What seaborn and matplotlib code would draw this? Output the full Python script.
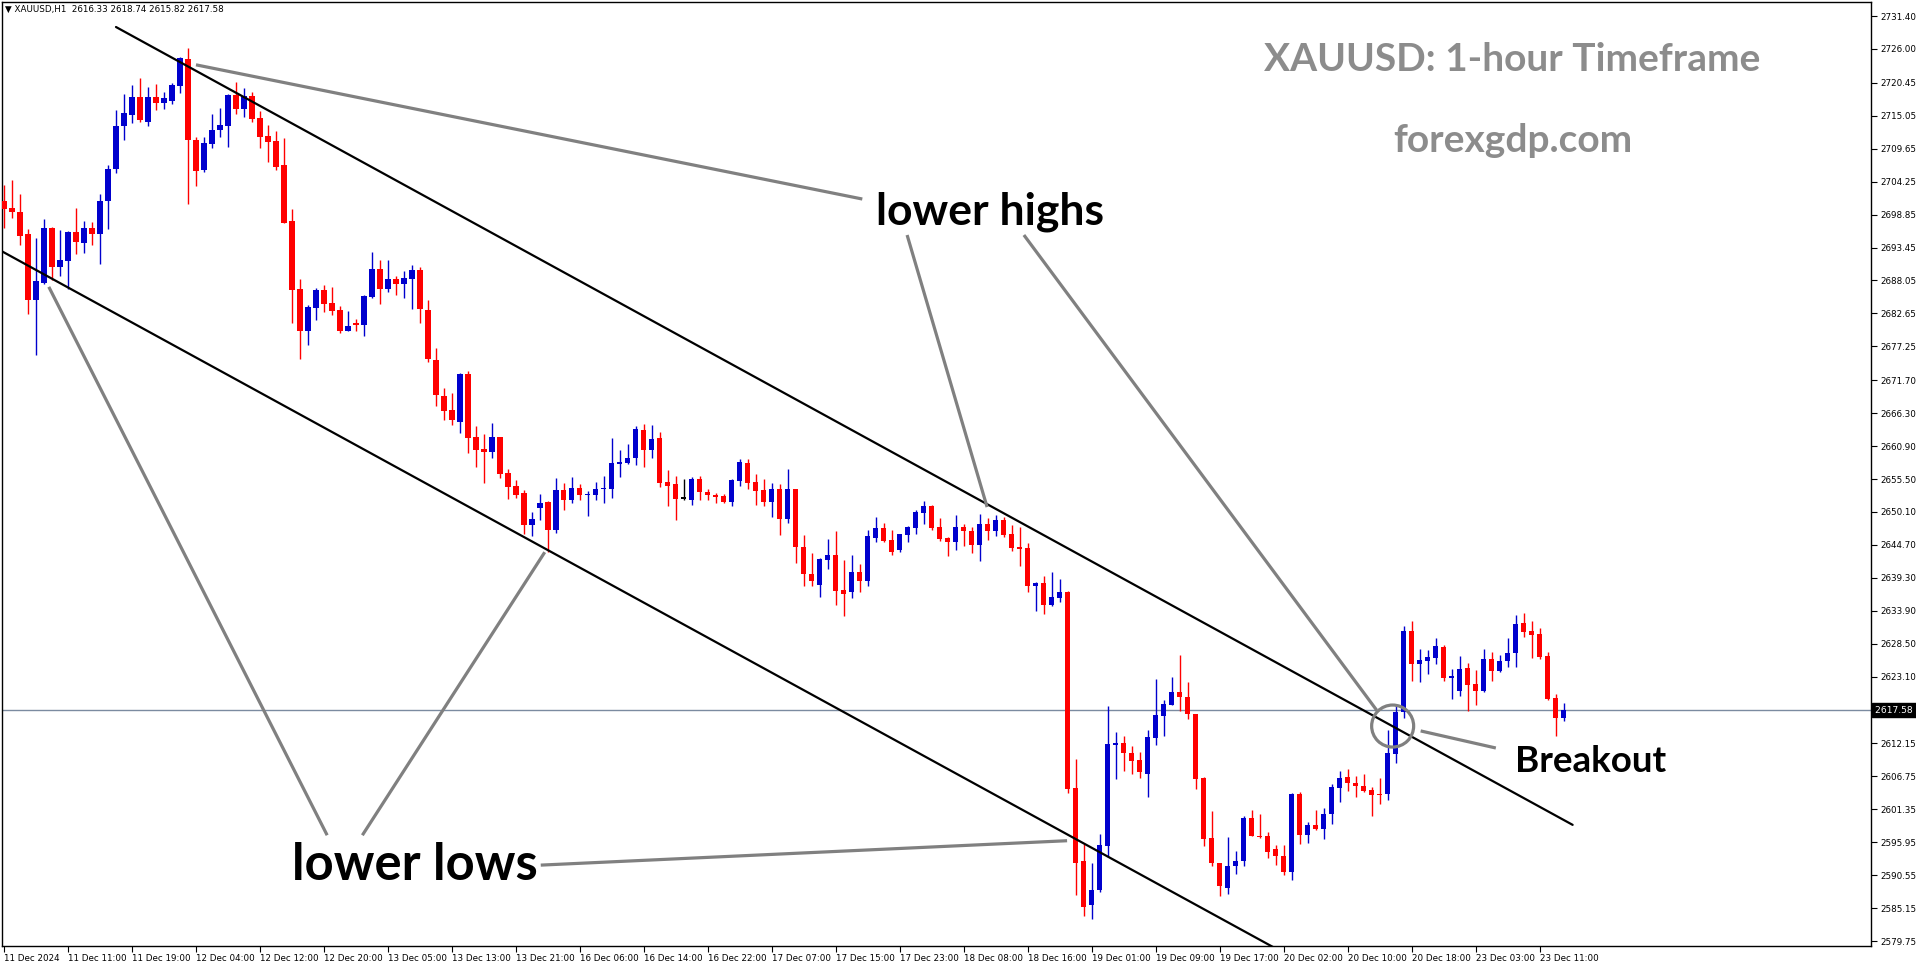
import numpy as np
import pandas as pd
import matplotlib
matplotlib.use("Agg")
import matplotlib.pyplot as plt
import matplotlib.transforms as mtransforms
from matplotlib.patches import Ellipse
import seaborn as sns

sns.set_theme(style="ticks")
plt.rcParams["font.family"] = ["DejaVu Sans"]

# -----------------------------
# DATA (XAUUSD H1)
# -----------------------------
opens = [2701.0, 2699.9, 2699.3, 2695.7, 2684.9, 2687.7, 2696.6, 2690.3, 2691.3, 2696.0,
         2694.2, 2696.6, 2695.7, 2701.0, 2706.4, 2713.3, 2715.2, 2718.1, 2714.1, 2718.1,
         2717.2, 2717.5, 2720.0, 2724.4, 2711.1, 2706.1, 2710.5, 2712.7, 2713.4, 2718.5,
         2716.2, 2718.3, 2714.7, 2711.7, 2710.9, 2707.0, 2697.8, 2686.7, 2679.7, 2683.6,
         2686.5, 2684.3, 2683.2, 2679.7, 2681.1, 2680.8, 2685.4, 2689.9, 2686.7, 2688.3,
         2687.4, 2688.3, 2689.8, 2683.2, 2675.0, 2669.1, 2666.8, 2664.9, 2672.7, 2662.4,
         2660.4, 2660.0, 2662.4, 2656.5, 2654.3, 2653.2, 2648.0, 2650.8, 2651.7, 2647.2,
         2653.7, 2652.0, 2654.0, 2652.8, 2652.9, 2653.8, 2653.8, 2658.0, 2658.2, 2659.0,
         2663.5, 2660.2, 2662.2, 2655.0, 2654.7, 2652.3, 2652.1, 2655.5, 2653.4, 2652.9,
         2652.7, 2651.8, 2655.1, 2658.1, 2655.0, 2653.7, 2651.8, 2653.9, 2649.0, 2653.9,
         2644.4, 2640.0, 2638.2, 2642.3, 2643.0, 2637.3, 2636.9, 2640.3, 2638.8, 2645.9,
         2647.5, 2645.5, 2643.8, 2646.4, 2647.5, 2650.0, 2651.1, 2647.6, 2645.8, 2645.1,
         2647.6, 2647.0, 2644.6, 2648.1, 2646.9, 2648.8, 2646.5, 2644.2, 2644.2, 2638.0,
         2638.4, 2634.9, 2636.0, 2637.0, 2604.8, 2592.9, 2585.7, 2588.2, 2595.4, 2611.9,
         2612.2, 2610.6, 2609.4, 2607.2, 2613.1, 2616.7, 2618.5, 2620.6, 2619.8, 2617.0,
         2606.5, 2596.6, 2592.6, 2588.5, 2592.0, 2592.8, 2599.9, 2597.0, 2597.0, 2594.8,
         2593.7, 2591.0, 2603.9, 2597.2, 2598.8, 2598.2, 2600.5, 2604.9, 2606.6, 2605.7,
         2605.2, 2604.5, 2603.9, 2603.9, 2610.4, 2617.3, 2630.6, 2625.2, 2625.7, 2626.2,
         2628.0, 2622.9, 2620.8, 2624.5, 2621.9, 2620.8, 2626.0, 2624.1, 2625.6, 2626.9,
         2631.9, 2630.6, 2630.1, 2626.5, 2619.6, 2616.33]

highs = [2703.7, 2704.5, 2702.2, 2696.5, 2695.0, 2698.1, 2696.8, 2696.3, 2696.2, 2699.9,
         2697.8, 2697.6, 2702.2, 2707.0, 2716.0, 2718.6, 2720.1, 2721.2, 2719.8, 2720.3,
         2719.0, 2720.4, 2724.7, 2726.2, 2711.6, 2711.6, 2715.3, 2716.3, 2718.6, 2720.6,
         2719.6, 2719.0, 2715.8, 2713.5, 2712.6, 2711.4, 2699.8, 2688.3, 2684.0, 2686.8,
         2687.3, 2687.0, 2683.8, 2683.0, 2681.7, 2685.7, 2692.7, 2691.4, 2691.4, 2688.8,
         2689.6, 2690.6, 2690.3, 2684.8, 2677.0, 2670.4, 2669.6, 2672.9, 2673.2, 2664.2,
         2662.9, 2664.7, 2662.4, 2657.1, 2655.3, 2653.7, 2650.1, 2653.0, 2651.9, 2655.7,
         2654.8, 2655.8, 2654.7, 2653.5, 2655.0, 2656.0, 2662.2, 2660.2, 2661.2, 2664.2,
         2664.5, 2664.4, 2663.2, 2657.0, 2656.0, 2655.5, 2655.8, 2656.0, 2653.8, 2653.2,
         2653.0, 2655.5, 2658.8, 2658.8, 2656.3, 2655.5, 2654.8, 2654.7, 2657.1, 2653.9,
         2646.3, 2643.4, 2642.6, 2645.7, 2647.0, 2642.2, 2643.0, 2641.6, 2647.1, 2649.3,
         2648.3, 2647.1, 2646.5, 2647.8, 2650.4, 2651.9, 2651.2, 2649.1, 2646.0, 2649.6,
         2648.1, 2647.6, 2649.8, 2649.1, 2649.6, 2649.3, 2648.0, 2647.6, 2645.0, 2638.6,
         2639.6, 2640.3, 2639.1, 2637.1, 2609.6, 2595.7, 2592.5, 2597.3, 2618.3, 2614.0,
         2613.4, 2611.7, 2610.7, 2614.4, 2622.7, 2619.3, 2623.0, 2626.6, 2622.2, 2617.0,
         2606.6, 2601.1, 2592.6, 2596.8, 2594.5, 2600.3, 2601.2, 2600.6, 2597.6, 2595.5,
         2595.5, 2604.0, 2604.2, 2599.3, 2601.2, 2601.6, 2605.5, 2607.6, 2608.0, 2606.8,
         2607.1, 2605.0, 2606.5, 2614.3, 2618.6, 2631.4, 2632.2, 2627.6, 2627.5, 2629.4,
         2628.3, 2624.3, 2626.5, 2625.4, 2624.2, 2627.6, 2627.1, 2626.6, 2629.4, 2633.2,
         2633.5, 2632.2, 2631.1, 2627.1, 2620.3, 2618.74]

lows = [2696.6, 2698.3, 2693.9, 2682.6, 2675.8, 2687.5, 2688.2, 2688.8, 2686.6, 2692.4,
        2692.6, 2693.8, 2690.8, 2696.5, 2705.6, 2711.0, 2713.9, 2714.1, 2713.3, 2716.0,
        2716.1, 2716.9, 2718.8, 2700.6, 2703.6, 2705.9, 2709.8, 2711.5, 2710.0, 2715.4,
        2714.9, 2714.1, 2709.8, 2707.4, 2706.1, 2697.4, 2681.0, 2675.2, 2677.5, 2681.6,
        2682.9, 2682.4, 2679.5, 2679.7, 2679.8, 2679.0, 2685.2, 2684.2, 2686.2, 2685.6,
        2685.2, 2683.4, 2681.1, 2674.6, 2667.5, 2665.2, 2664.4, 2663.1, 2659.7, 2657.5,
        2654.9, 2658.9, 2655.7, 2652.3, 2652.4, 2646.5, 2646.2, 2648.7, 2643.6, 2646.7,
        2650.5, 2651.6, 2652.1, 2649.5, 2652.1, 2651.6, 2652.4, 2655.9, 2658.0, 2657.8,
        2657.5, 2659.0, 2654.2, 2651.0, 2648.7, 2652.1, 2651.3, 2652.1, 2652.0, 2651.6,
        2651.6, 2651.1, 2654.4, 2653.9, 2651.3, 2651.0, 2649.2, 2646.4, 2648.3, 2641.8,
        2638.0, 2638.0, 2636.2, 2640.8, 2634.9, 2633.1, 2636.0, 2636.9, 2638.0, 2645.1,
        2645.2, 2643.1, 2643.6, 2645.1, 2646.5, 2648.2, 2647.1, 2645.3, 2642.8, 2643.9,
        2644.5, 2643.4, 2642.1, 2645.5, 2646.2, 2646.0, 2643.7, 2641.3, 2637.0, 2633.9,
        2633.3, 2634.7, 2635.3, 2604.1, 2587.3, 2583.8, 2583.3, 2587.8, 2593.6, 2606.4,
        2607.7, 2607.2, 2606.5, 2603.4, 2611.9, 2613.3, 2618.4, 2617.5, 2616.2, 2604.6,
        2595.4, 2592.1, 2587.2, 2587.4, 2590.8, 2592.0, 2596.9, 2596.7, 2593.3, 2592.3,
        2590.6, 2589.7, 2595.7, 2595.9, 2598.0, 2596.5, 2599.0, 2602.6, 2604.4, 2603.3,
        2604.2, 2600.3, 2602.3, 2602.8, 2609.0, 2616.4, 2622.4, 2622.3, 2623.6, 2625.2,
        2622.4, 2619.5, 2620.0, 2617.5, 2618.5, 2620.6, 2622.4, 2623.9, 2624.7, 2624.7,
        2629.6, 2626.2, 2626.0, 2619.2, 2613.3, 2615.82]

closes = [2699.8, 2699.2, 2695.4, 2684.9, 2688.0, 2696.6, 2690.3, 2691.4, 2696.0, 2694.4,
          2696.6, 2695.7, 2701.1, 2706.3, 2713.4, 2715.5, 2718.1, 2714.3, 2718.1, 2717.2,
          2718.0, 2720.1, 2724.5, 2711.0, 2706.0, 2710.6, 2712.7, 2713.5, 2718.5, 2716.2,
          2718.3, 2714.6, 2711.5, 2710.8, 2706.7, 2697.5, 2686.5, 2679.7, 2683.7, 2686.5,
          2684.2, 2683.1, 2679.7, 2680.6, 2680.8, 2685.5, 2689.9, 2686.7, 2688.3, 2687.4,
          2688.5, 2689.8, 2683.3, 2675.1, 2669.2, 2666.7, 2665.1, 2672.7, 2662.3, 2660.3,
          2660.0, 2662.4, 2656.4, 2654.2, 2652.9, 2647.9, 2648.9, 2651.6, 2647.2, 2653.7,
          2652.0, 2654.0, 2652.8, 2653.0, 2653.9, 2653.9, 2658.1, 2658.3, 2658.9, 2663.7,
          2660.2, 2662.1, 2654.9, 2654.4, 2652.3, 2652.3, 2655.5, 2653.3, 2652.8, 2652.6,
          2651.8, 2655.3, 2658.3, 2654.9, 2653.6, 2651.8, 2653.9, 2649.0, 2653.9, 2644.4,
          2640.0, 2638.8, 2642.4, 2643.0, 2637.2, 2636.7, 2640.3, 2638.8, 2646.2, 2647.5,
          2645.4, 2643.6, 2646.5, 2647.6, 2650.1, 2651.1, 2647.5, 2645.7, 2645.2, 2647.6,
          2646.9, 2644.7, 2648.1, 2646.9, 2648.8, 2646.4, 2644.2, 2644.1, 2638.0, 2638.4,
          2634.9, 2636.1, 2637.0, 2604.7, 2592.6, 2585.4, 2588.2, 2595.5, 2612.1, 2612.2,
          2610.5, 2609.3, 2607.4, 2613.2, 2616.8, 2618.6, 2620.6, 2619.7, 2616.9, 2606.4,
          2596.5, 2592.6, 2588.7, 2592.1, 2592.9, 2599.9, 2596.9, 2596.8, 2594.4, 2593.7,
          2591.0, 2603.9, 2597.2, 2598.8, 2598.2, 2600.6, 2605.0, 2606.5, 2605.6, 2605.1,
          2604.4, 2603.7, 2603.7, 2610.5, 2617.3, 2630.6, 2625.2, 2625.8, 2626.4, 2628.1,
          2622.9, 2623.2, 2624.3, 2621.8, 2620.8, 2626.0, 2624.1, 2625.7, 2627.0, 2631.7,
          2630.4, 2629.9, 2626.4, 2619.4, 2616.4, 2617.58]

time_labels = ["11 Dec 2024", "11 Dec 11:00", "11 Dec 19:00", "12 Dec 04:00", "12 Dec 12:00",
               "12 Dec 20:00", "13 Dec 05:00", "13 Dec 13:00", "13 Dec 21:00", "16 Dec 06:00",
               "16 Dec 14:00", "16 Dec 22:00", "17 Dec 07:00", "17 Dec 15:00", "17 Dec 23:00",
               "18 Dec 08:00", "18 Dec 16:00", "19 Dec 01:00", "19 Dec 09:00", "19 Dec 17:00",
               "20 Dec 02:00", "20 Dec 10:00", "20 Dec 18:00", "23 Dec 03:00", "23 Dec 11:00"]
time_label_bars = list(range(0, 193, 8))

price_ticks = [2731.40, 2726.00, 2720.45, 2715.05, 2709.65, 2704.25, 2698.85, 2693.45,
               2688.05, 2682.65, 2677.25, 2671.70, 2666.30, 2660.90, 2655.50, 2650.10,
               2644.70, 2639.30, 2633.90, 2628.50, 2623.10, 2612.15, 2606.75, 2601.35,
               2595.95, 2590.55, 2585.15, 2579.75]
last_price = 2617.58

# channel lines: (bar, price) end points
upper_channel = [(14.0, 2729.6), (196.1, 2598.8)]
lower_channel = [(-0.5, 2693.0), (160.0, 2577.8)]

# annotation pointers
highs_pointers = [[(24.0, 2723.4), (107.3, 2701.4)],
                  [(112.9, 2695.5), (122.9, 2650.9)],
                  [(127.5, 2695.5), (171.6, 2617.6)]]
lows_pointers = [[(40.4, 2597.1), (5.6, 2687.0)],
                 [(44.8, 2597.1), (67.6, 2643.5)],
                 [(67.1, 2592.2), (132.9, 2596.2)]]
breakout_pointer = [(177.1, 2614.2), (186.5, 2611.4)]
breakout_circle = (173.6, 2615.0)

df = pd.DataFrame({"open": opens, "high": highs, "low": lows, "close": closes})
df["bar"] = np.arange(len(df))
df["color"] = np.where(df["close"] > df["open"], "#0000CD",
                       np.where(df["close"] < df["open"], "#FF0000", "#000000"))

# -----------------------------
# FIGURE
# -----------------------------
W, H = 1916, 964
fig = plt.figure(figsize=(W / 100, H / 100), dpi=100, facecolor="white")
ax = fig.add_axes([2 / W, 18 / H, (1871 - 2) / W, (946 - 2) / H])
ax.set_facecolor("white")

# candles
ax.vlines(df["bar"], df["low"], df["high"], colors=df["color"], linewidth=1.0, zorder=2)
body_h = np.maximum((df["close"] - df["open"]).abs(), 0.18)
ax.bar(df["bar"], body_h, bottom=np.minimum(df["open"], df["close"]),
       width=0.64, color=df["color"], linewidth=0, zorder=3)

# price line
ax.axhline(last_price, color="#7B8BA0", linewidth=1.0, zorder=1)

# channel
for line in [upper_channel, lower_channel]:
    xs, ys = zip(*line)
    sns.lineplot(x=list(xs), y=list(ys), ax=ax, color="black", linewidth=1.6,
                 zorder=5, estimator=None, sort=False)

# pointers
gray = "#808080"
for seg in highs_pointers + lows_pointers + [breakout_pointer]:
    xs, ys = zip(*seg)
    ax.plot(xs, ys, color=gray, linewidth=2.3, solid_capstyle="butt", zorder=6)

ax.add_patch(Ellipse(breakout_circle, width=42 / 8, height=42 / 6.10, fill=False,
                     edgecolor=gray, linewidth=2.3, zorder=6))

# texts
ax.text(123.3, 2697.3, "lower highs", ha="center", va="baseline", fontsize=32,
        family="Lato", fontweight="bold", color="black", zorder=7)
ax.text(51.4, 2589.8, "lower lows", ha="center", va="baseline", fontsize=36.5,
        family="Lato", fontweight="bold", color="black", zorder=7)
ax.text(188.9, 2607.5, "Breakout", ha="left", va="baseline", fontsize=26.5,
        family="Lato", fontweight="bold", color="black", zorder=7)
ax.text(188.6, 2724.3, "XAUUSD: 1-hour Timeframe", ha="center", va="center", fontsize=28,
        family="Lato", fontweight="bold", color="#8C8C8C", zorder=7)
ax.text(188.6, 2711.0, "forexgdp.com", ha="center", va="center", fontsize=28,
        family="Lato", fontweight="bold", color="#8C8C8C", zorder=7)

# axes limits
ax.set_xlim(-0.25, 233.4)
ax.set_ylim(2578.94, 2733.70)
ax.set_xlabel("")
ax.set_ylabel("")

# price axis on the right
ax.yaxis.tick_right()
ax.set_yticks(price_ticks)
ax.set_yticklabels([f"{p:.2f}" for p in price_ticks])
ax.tick_params(axis="y", direction="out", length=4, width=0.8, pad=3,
               labelsize=6.3, colors="black")

# time axis
ax.set_xticks(time_label_bars)
ax.set_xticklabels(time_labels)
for lab in ax.get_xticklabels():
    lab.set_horizontalalignment("left")
ax.tick_params(axis="x", direction="out", length=4, width=0.8, pad=2,
               labelsize=6.3, colors="black")

for sp in ax.spines.values():
    sp.set_visible(True)
    sp.set_color("black")
    sp.set_linewidth(1.0)

# current price tag
trans = mtransforms.blended_transform_factory(ax.transAxes, ax.transData)
ax.text(1.002, last_price, f"{last_price:.2f} ", transform=trans, ha="left", va="center",
        fontsize=6.6, color="white",
        bbox=dict(facecolor="black", edgecolor="black", pad=1.8), zorder=8, clip_on=False)

# header
fig.text(5 / W, 1 - 9 / H, "\u25bc XAUUSD,H1  2616.33 2618.74 2615.82 2617.58",
         fontsize=6.3, va="center", ha="left", color="black")

fig.savefig("out.png", dpi=100, facecolor="white")
plt.close(fig)
